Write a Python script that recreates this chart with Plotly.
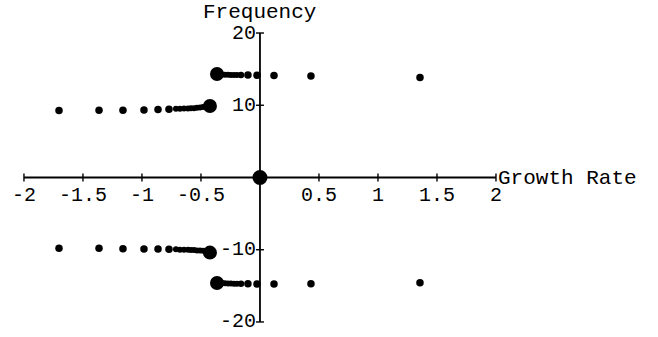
import plotly.graph_objects as go

# ---- axis ticks ----
x_ticks = [-2, -1.5, -1, -0.5, 0.5, 1, 1.5, 2]
x_tick_labels = ["-2", "-1.5", "-1", "-0.5", "0.5", "1", "1.5", "2"]
y_ticks = [-20, -10, 10, 20]
y_tick_labels = ["-20", "-10", "10", "20"]
x_axis_title = "Growth Rate"
y_axis_title = "Frequency"

# ---- eigenvalue branches (growth rate, frequency) ----
# branch near +10
b1_x = [-1.703, -1.364, -1.161, -0.983, -0.864, -0.771, -0.712, -0.678, -0.644,
        -0.610, -0.585, -0.559, -0.534, -0.508, -0.483, -0.458]
b1_y = [9.27, 9.3, 9.3, 9.35, 9.4, 9.45, 9.5, 9.5, 9.55, 9.55, 9.6, 9.6, 9.65,
        9.7, 9.75, 9.8]
# branch near -10
b2_x = b1_x
b2_y = [-9.8, -9.8, -9.85, -9.9, -9.9, -9.95, -9.95, -10.0, -10.0, -10.0,
        -10.05, -10.05, -10.1, -10.1, -10.15, -10.2]
# branch near +14
b3_x = [-0.322, -0.297, -0.271, -0.246, -0.220, -0.195, -0.161, -0.102, -0.025,
        0.119, 0.432, 1.356]
b3_y = [14.25, 14.23, 14.22, 14.2, 14.2, 14.2, 14.2, 14.19, 14.17, 14.12, 14.05,
        13.84]
# branch near -14
b4_x = b3_x
b4_y = [-14.62, -14.64, -14.66, -14.68, -14.7, -14.7, -14.72, -14.72, -14.74,
        -14.74, -14.72, -14.56]
branch_sizes = [7.5, 7.5, 7.5, 7.5, 7.5, 7.5, 6, 6, 6, 6, 6, 6, 6, 6, 6, 6]
branch_sizes_r = [6, 6, 6, 6, 6, 6, 6.5, 7.5, 7.5, 7.5, 7.5, 7.5]

# large points (limit points)
big_x = [0.0, -0.424, -0.424, -0.364, -0.364]
big_y = [0.0, 9.9, -10.4, 14.33, -14.6]
big_sizes = [15, 14, 14, 14, 14]

FONT = "Liberation Mono, Courier New, monospace"

fig = go.Figure()
for xs, ys, ss in [(b1_x, b1_y, branch_sizes), (b2_x, b2_y, branch_sizes),
                   (b3_x, b3_y, branch_sizes_r), (b4_x, b4_y, branch_sizes_r)]:
    fig.add_trace(go.Scatter(x=xs, y=ys, mode="markers", opacity=1,
                             marker=dict(color="black", size=ss, opacity=1,
                                         line=dict(width=0)),
                             showlegend=False, hoverinfo="skip"))
fig.add_trace(go.Scatter(x=big_x, y=big_y, mode="markers", opacity=1,
                         marker=dict(color="black", size=big_sizes, opacity=1,
                                     line=dict(width=0)),
                         showlegend=False, hoverinfo="skip"))

shapes = []
# axis lines
shapes.append(dict(type="line", xref="x", yref="y", x0=x_ticks[0], x1=x_ticks[-1],
                   y0=0, y1=0, line=dict(color="black", width=1.8)))
shapes.append(dict(type="line", xref="x", yref="y", x0=0, x1=0,
                   y0=y_ticks[0], y1=y_ticks[-1], line=dict(color="black", width=1.8)))
# tick marks crossing the axes
for t in x_ticks:
    shapes.append(dict(type="line", xref="x", yref="y", x0=t, x1=t,
                       ysizemode="pixel", yanchor=0, y0=-4, y1=4,
                       line=dict(color="black", width=1.4)))
for t in y_ticks:
    shapes.append(dict(type="line", xref="x", yref="y", y0=t, y1=t,
                       xsizemode="pixel", xanchor=0, x0=-4, x1=4,
                       line=dict(color="black", width=1.4)))

annotations = []
for t, lab in zip(x_ticks, x_tick_labels):
    annotations.append(dict(x=t, y=0, xref="x", yref="y", text=lab, showarrow=False,
                            xanchor="center", yanchor="top", yshift=-5,
                            font=dict(family=FONT, size=20, color="black")))
for t, lab in zip(y_ticks, y_tick_labels):
    annotations.append(dict(x=0, y=t, xref="x", yref="y", text=lab, showarrow=False,
                            xanchor="right", yanchor="middle", xshift=-2,
                            font=dict(family=FONT, size=20, color="black")))
annotations.append(dict(x=x_ticks[-1], y=0, xref="x", yref="y", text=x_axis_title,
                        showarrow=False, xanchor="left", yanchor="middle", yshift=-1,
                        font=dict(family=FONT, size=21, color="black")))
annotations.append(dict(x=0, y=y_ticks[-1], xref="x", yref="y", text=y_axis_title,
                        showarrow=False, xanchor="center", yanchor="bottom", yshift=7,
                        font=dict(family=FONT, size=21, color="black")))

fig.update_layout(
    width=658, height=337,
    margin=dict(l=0, r=0, t=0, b=0),
    paper_bgcolor="white", plot_bgcolor="white",
    xaxis=dict(range=[-2.203, 3.373], visible=False, fixedrange=True),
    yaxis=dict(range=[-22.08, 24.57], visible=False, fixedrange=True),
    shapes=shapes, annotations=annotations,
)

fig.write_html("out.html")
